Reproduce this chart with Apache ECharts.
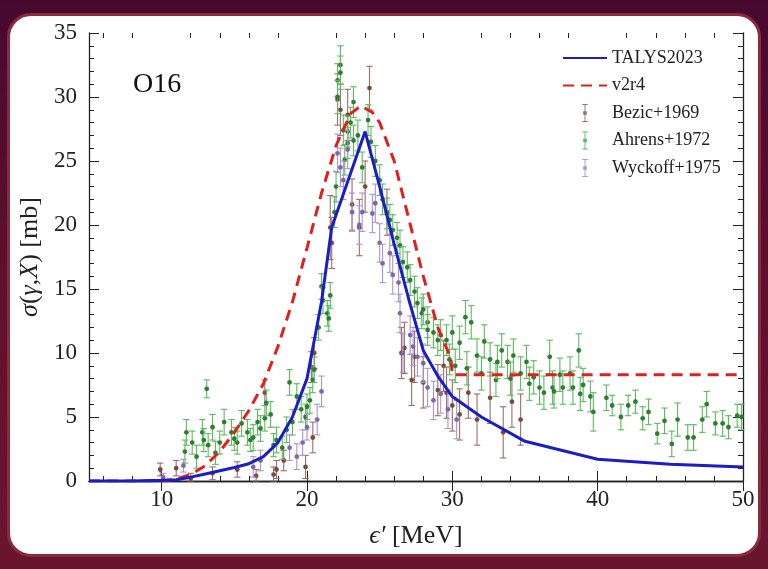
<!DOCTYPE html>
<html>
<head>
<meta charset="utf-8">
<script src="https://cdn.jsdelivr.net/npm/echarts@6/dist/echarts.min.js"></script>
<style>
html,body{margin:0;padding:0;width:768px;height:569px;overflow:hidden;}
body{background:linear-gradient(180deg,#47082f 0%,#5c0f2e 40%,#6a1530 100%);position:relative;}
#panel{position:absolute;left:7px;top:13px;width:748px;height:538px;border-radius:24px;background:#fff;border:3px solid #8a2b3d;}
#chart{position:absolute;left:0;top:0;width:768px;height:569px;}
</style>
</head>
<body>
<div id="panel"></div>
<div id="chart"></div>
<script>
// ---- Data ----
const xMajor = [10, 20, 30, 40, 50];
const xMinor = [6, 8, 12, 14, 16, 18, 22, 24, 26, 28, 32, 34, 36, 38, 42, 44, 46, 48];

const talysX = [5, 8, 10, 11, 12, 13, 14, 15, 16, 17, 18, 19, 20, 21, 21.7, 24, 25, 26, 27, 28, 29, 30, 32, 35, 40, 45, 50];
const talysY = [0, 0, 0.05, 0.1, 0.3, 0.55, 0.8, 1.05, 1.35, 1.9, 3.0, 5.0, 8.0, 14.0, 19.8, 27.3, 23.0, 18.5, 14.2, 10.2, 8.2, 6.6, 5.0, 3.1, 1.7, 1.3, 1.1];

const v2r4X = [5, 8, 10, 11, 12, 13, 14, 15, 16, 17, 18, 19, 20, 21, 22, 23, 23.7, 24.5, 25, 26, 27, 28, 29, 29.9, 30, 50];
const v2r4Y = [0, 0, 0.0, 0.15, 0.5, 1.2, 2.3, 3.8, 5.5, 7.6, 10.5, 14.0, 18.2, 22.5, 26.2, 28.7, 29.3, 28.8, 28.0, 25.0, 20.5, 16.0, 12.0, 9.6, 8.3, 8.3];

// [energy, sigma, error]
const bezic = [
  [9.9,0.9,0.5],[11.0,1.0,0.6],[12.0,0.2,0.4],[13.5,0.6,0.5],[15.2,0.9,0.6],[16.5,0.4,0.5],[17.1,6.9,1.0],
  [17.7,0.5,0.6],[17.9,0.9,0.7],[18.4,1.6,0.8],[19.9,1.1,0.9],[20.3,8.9,1.2],[20.4,3.4,1.2],[20.5,10.0,1.2],
  [21.6,19.8,2.5],[21.7,18.6,2.0],[22.1,29.8,2.0],[22.3,29.0,2.0],[22.8,28.6,2.0],[23.1,21.6,2.0],[23.6,19.8,2.2],
  [24.0,23.0,2.0],[24.3,30.7,1.7],[25.5,21.0,1.8],[26.5,10.0,2.0],[26.7,10.4,2.0],[27.2,7.9,2.0],[27.4,9.7,2.0],
  [28.0,7.7,2.0],[29.0,7.1,2.0],[29.4,9.0,2.0],[29.6,6.9,2.0],[30.0,5.9,2.0],[30.5,5.2,2.0],[31.1,6.9,2.0],
  [31.7,4.8,2.0],[32.6,6.5,2.0],[33.5,3.8,2.0],[34.1,6.2,2.0],[34.7,4.8,2.0]
];
const ahrens = [
  [11.6,2.3,0.9],[11.7,3.8,1.0],[12.1,3.0,0.9],[12.4,1.9,0.9],[12.8,3.8,1.0],[12.9,3.2,0.9],[13.1,7.2,0.7],
  [13.2,2.8,0.9],[13.5,4.2,1.0],[13.7,2.2,0.9],[14.0,3.0,0.9],[14.3,4.6,1.0],[14.8,3.8,1.0],[15.0,3.3,0.9],
  [15.2,3.0,0.9],[15.5,4.5,1.0],[15.9,3.8,1.0],[16.1,3.2,0.9],[16.3,3.4,1.0],[16.6,4.6,1.0],[16.8,4.1,1.0],
  [17.1,4.9,1.0],[17.2,6.1,1.0],[17.5,5.2,1.0],[17.7,2.8,0.9],[17.9,3.2,1.0],[18.3,2.6,0.9],[18.6,4.0,1.0],
  [18.8,7.7,1.0],[19.0,4.6,1.0],[19.3,6.6,1.0],[19.6,5.6,1.0],[19.9,5.0,1.0],[20.0,5.8,1.0],[20.2,6.3,1.0],
  [20.4,7.9,1.0],[20.5,8.7,1.0],[20.8,12.0,1.0],[21.0,15.2,1.0],[21.1,14.1,1.0],[21.4,13.1,1.0],[21.5,12.7,1.0],
  [21.6,14.5,1.0],[21.9,21.0,1.2],[22.0,23.0,1.2],[22.1,31.3,1.3],[22.1,30.0,1.3],[22.3,32.5,1.5],[22.3,31.9,1.3],
  [22.5,27.4,1.2],[22.6,25.1,1.2],[22.8,27.3,1.2],[22.8,26.4,1.2],[23.0,28.0,1.2],[23.2,29.6,1.2],[23.2,26.6,1.2],
  [23.5,27.0,1.2],[23.8,24.5,1.2],[24.2,28.2,1.2],[24.4,26.5,1.2],[24.7,25.0,1.2],[25.0,23.5,1.2],[25.2,22.0,1.2],
  [25.5,20.9,1.2],[25.7,20.4,1.2],[25.9,19.6,1.2],[26.2,19.0,1.2],[26.4,18.4,1.2],[26.6,17.1,1.2],[26.9,16.7,1.2],
  [27.1,15.7,1.2],[27.4,14.8,1.2],[27.6,13.9,1.2],[27.9,13.1,1.2],[28.0,13.4,1.2],[28.3,12.4,1.2],[28.3,11.8,1.2],
  [28.7,11.6,1.2],[29.0,11.0,1.2],[29.2,11.4,1.2],[29.6,11.0,1.2],[29.8,9.5,1.2],[30.0,11.6,1.3],[30.2,9.0,1.3],
  [30.5,10.8,1.3],[30.9,12.8,1.3],[31.0,8.8,1.3],[31.3,12.4,1.3],[31.7,9.8,1.3],[32.0,8.4,1.3],[32.2,10.9,1.3],
  [32.6,9.5,1.3],[33.0,7.9,1.3],[33.1,9.3,1.3],[33.4,10.2,1.3],[33.8,9.3,1.3],[34.0,8.0,1.3],[34.2,9.8,1.3],
  [34.7,8.4,1.3],[35.1,9.3,1.3],[35.3,7.6,1.3],[35.6,8.1,1.3],[36.0,7.3,1.3],[36.3,6.9,1.3],[36.7,9.7,1.3],
  [36.9,7.3,1.3],[37.0,7.0,1.3],[37.4,8.3,1.3],[37.6,7.3,1.3],[38.1,8.4,1.3],[38.3,7.3,1.3],[38.7,10.2,1.3],
  [38.8,6.8,1.3],[39.0,7.5,1.3],[39.5,6.6,1.2],[39.7,5.4,1.5],[40.6,6.5,1.0],[41.0,5.9,0.8],[41.6,5.0,1.0],
  [42.1,5.9,0.8],[42.6,6.2,0.9],[43.1,4.9,0.9],[43.5,5.4,1.0],[44.1,3.7,0.8],[44.6,4.7,1.0],[45.1,2.9,1.0],
  [45.5,4.8,1.3],[46.2,3.4,1.0],[46.6,3.4,1.0],[47.2,4.8,1.0],[47.5,6.0,1.0],[48.1,4.5,0.9],[48.6,4.5,1.0],
  [49.0,4.2,0.9],[49.6,5.1,0.9],[49.9,5.0,1.0]
];
const wyckoff = [
  [10.1,0.3,0.3],[11.5,1.2,0.5],[16.3,1.1,0.8],[16.8,1.6,0.8],[18.8,2.6,1.0],[19.3,1.9,1.0],[19.7,3.0,1.0],
  [20.0,4.2,1.0],[20.7,4.8,1.2],[21.0,7.0,1.2],[22.1,25.6,1.5],[22.3,24.5,1.5],[22.5,23.5,1.5],[22.8,25.9,1.5],
  [23.1,21.0,1.5],[23.6,20.0,1.5],[23.8,21.0,1.5],[24.5,20.9,1.5],[24.7,21.7,1.5],[25.0,18.6,1.5],[25.2,17.0,1.5],
  [25.7,17.8,1.5],[25.9,16.1,1.5],[26.3,15.5,1.5],[26.4,13.1,1.5],[26.6,10.0,1.5],[27.1,11.4,1.5],[27.3,10.5,1.5],
  [27.6,9.7,1.5],[28.0,9.2,1.5],[28.3,7.3,1.5],[28.7,6.3,1.5],[29.2,6.8,1.5],[29.7,5.6,1.5],[30.3,4.8,1.5]
];

// ---- Chart ----
const FONT = '"Liberation Serif", "DejaVu Serif", serif';
const chart = echarts.init(document.getElementById('chart'), null, {renderer: 'canvas'});

function errSeries(name, data, barColor, dotColor) {
  return {
    type: 'custom', name: name, data: data, xAxisIndex: 0, yAxisIndex: 0, z: 3,
    itemStyle: {color: barColor},
    encode: {x: 0, y: 1},
    renderItem: function (params, api) {
      const x = api.value(0), y = api.value(1), e = api.value(2);
      const t = api.coord([x, Math.min(y + e, 35)]);
      const b = api.coord([x, Math.max(y - e, 0)]);
      const c = api.coord([x, y]);
      const cw = 3.2;
      const ls = {stroke: barColor, lineWidth: 1.1};
      return {type: 'group', children: [
        {type: 'line', shape: {x1: t[0], y1: t[1], x2: b[0], y2: b[1]}, style: ls},
        {type: 'line', shape: {x1: t[0]-cw, y1: t[1], x2: t[0]+cw, y2: t[1]}, style: ls},
        {type: 'line', shape: {x1: b[0]-cw, y1: b[1], x2: b[0]+cw, y2: b[1]}, style: ls},
        {type: 'circle', shape: {cx: c[0], cy: c[1], r: 2.4}, style: {fill: dotColor}}
      ]};
    }
  };
}

const errIcon = 'path://M3,0H9V1H3Z M5.5,1H6.5V19H5.5Z M3,19H9V20H3Z M4,8H8V12H4Z';
const axisLineStyle = {show: true, lineStyle: {color: '#222', width: 1.3}};
const hideSym = {opacity: 0, color: 'rgba(0,0,0,0)', borderWidth: 0};

chart.setOption({
  animation: false,
  textStyle: {fontFamily: FONT},
  grid: [
    {left: 89, right: 25, top: 33, bottom: 88},
    {left: 89, right: 25, top: 33, bottom: 88}
  ],
  graphic: [{
    type: 'text', left: 133, top: 71,
    style: {text: 'O16', font: '28px ' + FONT, fill: '#111'}
  }],
  legend: {
    orient: 'vertical', left: 557, top: 44, itemWidth: 44, itemHeight: 18, itemGap: 9.5, itemTextGap: 10,
    textStyle: {fontFamily: FONT, fontSize: 18, color: '#222'},
    data: [
      {name: 'TALYS2023', itemStyle: hideSym},
      {name: 'v2r4', itemStyle: hideSym},
      {name: 'Bezic+1969', icon: errIcon},
      {name: 'Ahrens+1972', icon: errIcon},
      {name: 'Wyckoff+1975', icon: errIcon}
    ]
  },
  xAxis: [
    {type: 'value', gridIndex: 0, min: 5, max: 50, position: 'bottom',
     axisLine: axisLineStyle, splitLine: {show: false},
     axisTick: {inside: true, length: 10, customValues: xMajor, lineStyle: {color: '#222'}},
     axisLabel: {customValues: xMajor, fontSize: 23, color: '#222', margin: 7, fontFamily: FONT},
     name: '{i|ϵ′} [MeV]', nameLocation: 'middle', nameGap: 42,
     nameTextStyle: {fontSize: 26, color: '#222', fontFamily: FONT, rich: {i: {fontSize: 26, fontStyle: 'italic', fontFamily: FONT, color: '#222'}}}},
    {type: 'value', gridIndex: 0, min: 5, max: 50, position: 'top',
     axisLine: axisLineStyle, splitLine: {show: false},
     axisTick: {inside: true, length: 10, customValues: xMajor, lineStyle: {color: '#222'}},
     axisLabel: {show: false}},
    {type: 'value', gridIndex: 1, min: 5, max: 50, position: 'bottom',
     axisLine: {show: false}, splitLine: {show: false},
     axisTick: {inside: true, length: 5, customValues: xMinor, lineStyle: {color: '#222'}},
     axisLabel: {show: false}},
    {type: 'value', gridIndex: 1, min: 5, max: 50, position: 'top',
     axisLine: {show: false}, splitLine: {show: false},
     axisTick: {inside: true, length: 5, customValues: xMinor, lineStyle: {color: '#222'}},
     axisLabel: {show: false}}
  ],
  yAxis: [
    {type: 'value', gridIndex: 0, min: 0, max: 35, interval: 5, position: 'left',
     axisLine: axisLineStyle, splitLine: {show: false},
     axisTick: {show: true, inside: true, length: 10, lineStyle: {color: '#222'}},
     minorTick: {show: true, splitNumber: 5, length: 5, lineStyle: {color: '#222'}},
     axisLabel: {fontSize: 23, color: '#222', margin: 12, fontFamily: FONT},
     name: '{i|σ}({i|γ},{i|X}) [mb]', nameLocation: 'middle', nameGap: 42, nameRotate: 90,
     nameTextStyle: {fontSize: 26, color: '#222', fontFamily: FONT, rich: {i: {fontSize: 26, fontStyle: 'italic', fontFamily: FONT, color: '#222'}}}},
    {type: 'value', gridIndex: 0, min: 0, max: 35, interval: 5, position: 'right',
     axisLine: axisLineStyle, splitLine: {show: false},
     axisTick: {show: true, inside: true, length: 10, lineStyle: {color: '#222'}},
     minorTick: {show: true, splitNumber: 5, length: 5, lineStyle: {color: '#222'}},
     axisLabel: {show: false}},
    {type: 'value', gridIndex: 1, min: 0, max: 35, show: false}
  ],
  series: [
    errSeries('Bezic+1969', bezic, '#9a6f66', '#7a4a40'),
    errSeries('Ahrens+1972', ahrens, '#5cba5c', '#2e7d32'),
    errSeries('Wyckoff+1975', wyckoff, '#a896cc', '#7e68a8'),
    {type: 'line', name: 'v2r4', xAxisIndex: 0, yAxisIndex: 0, z: 5, symbol: 'none',
     data: v2r4X.map((x, i) => [x, v2r4Y[i]]),
     itemStyle: {color: '#e0201e'},
     lineStyle: {color: '#e0201e', width: 3, type: [11, 7]}},
    {type: 'line', name: 'TALYS2023', xAxisIndex: 0, yAxisIndex: 0, z: 6, symbol: 'none',
     data: talysX.map((x, i) => [x, talysY[i]]),
     itemStyle: {color: '#1c1cc8'},
     lineStyle: {color: '#1c1cc8', width: 3}}
  ]
});
</script>
</body>
</html>
